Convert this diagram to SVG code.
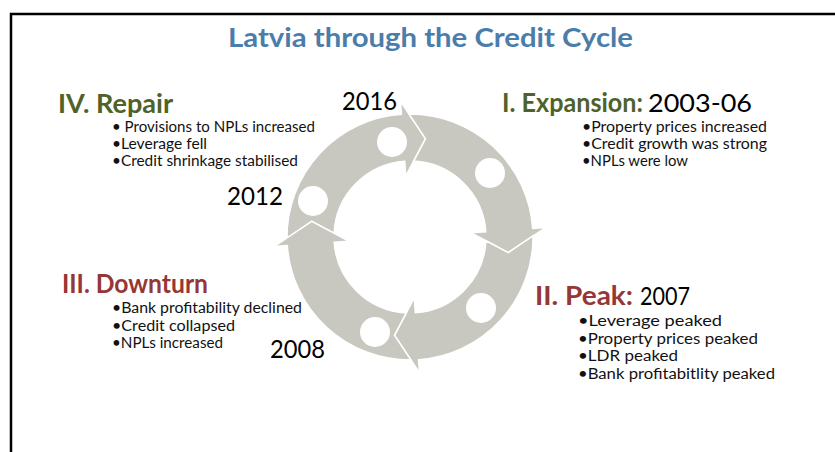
<svg xmlns="http://www.w3.org/2000/svg" width="835" height="452" viewBox="0 0 835 452">
<style>
.title{font-family:Lato,"Liberation Sans",sans-serif;font-weight:700;font-size:27px;fill:#4A7DAA}
.head{font-family:Lato,"Liberation Sans",sans-serif;font-weight:700;font-size:26px}
.green{fill:#4F6228}
.red{fill:#953735}
.year{font-family:Lato,"Liberation Sans",sans-serif;font-weight:400;font-size:25px;fill:#000}
.bul{font-family:Lato,"Liberation Sans",sans-serif;font-size:14.5px;fill:#111}
.seg{fill:#C8C8C0;stroke:#fff;stroke-width:1.5;stroke-linejoin:miter}
.dot{fill:#fff}
</style>
<defs>
<path id="segment" d="M -123.0 1.0 A 123 123 0 0 1 -8.58 -122.70 L -9.49 -135.67 L 15.57 -98.28 L -4.26 -60.85 L -5.30 -75.81 A 76 76 0 0 0 -75.91 -3.72 L -98.28 -15.57 Z"/>
</defs>
<rect width="835" height="452" fill="#fff"/>
<path d="M 11 452 V 14 H 835" fill="none" stroke="#000" stroke-width="2.5"/>
<g id="title">
<text class="title" x="228" y="47" textLength="405" lengthAdjust="spacingAndGlyphs">Latvia through the Credit Cycle</text>
</g>
<g id="connectors">
<use href="#segment" class="seg" transform="translate(410,237)"/>
<use href="#segment" class="seg" transform="translate(410,237) rotate(90)"/>
<use href="#segment" class="seg" transform="translate(410,237) rotate(180)"/>
<use href="#segment" class="seg" transform="translate(410,237) rotate(270)"/>
<circle class="dot" cx="313" cy="201" r="15"/>
<circle class="dot" cx="392" cy="142" r="15"/>
<circle class="dot" cx="490" cy="173" r="15"/>
<circle class="dot" cx="481" cy="308" r="15"/>
<circle class="dot" cx="375" cy="332" r="15"/>
</g>
<g id="node-expansion">
<text class="head green" x="502" y="112" textLength="141" lengthAdjust="spacingAndGlyphs">I. Expansion:</text>
<text class="year" x="648" y="112" textLength="104" lengthAdjust="spacingAndGlyphs">2003-06</text>
<text class="bul" x="582" y="132" textLength="185" lengthAdjust="spacingAndGlyphs">•Property prices increased</text>
<text class="bul" x="582" y="149" textLength="185" lengthAdjust="spacingAndGlyphs">•Credit growth was strong</text>
<text class="bul" x="582" y="166" textLength="106" lengthAdjust="spacingAndGlyphs">•NPLs were low</text>
</g>
<g id="node-peak">
<text class="head red" x="535" y="305" textLength="98" lengthAdjust="spacingAndGlyphs">II. Peak:</text>
<text class="year" x="640" y="305" textLength="50" lengthAdjust="spacingAndGlyphs">2007</text>
<text class="bul" x="578" y="326" textLength="144" lengthAdjust="spacingAndGlyphs">•Leverage peaked</text>
<text class="bul" x="578" y="343.5" textLength="180" lengthAdjust="spacingAndGlyphs">•Property prices peaked</text>
<text class="bul" x="578" y="361" textLength="100" lengthAdjust="spacingAndGlyphs">•LDR peaked</text>
<text class="bul" x="578" y="378.5" textLength="197" lengthAdjust="spacingAndGlyphs">•Bank profitabitlity peaked</text>
</g>
<g id="node-downturn">
<text class="head red" x="62" y="293" textLength="146" lengthAdjust="spacingAndGlyphs">III. Downturn</text>
<text class="bul" x="112" y="313" textLength="190" lengthAdjust="spacingAndGlyphs">•Bank profitability declined</text>
<text class="bul" x="112" y="330.5" textLength="123" lengthAdjust="spacingAndGlyphs">•Credit collapsed</text>
<text class="bul" x="112" y="348" textLength="111" lengthAdjust="spacingAndGlyphs">•NPLs increased</text>
</g>
<g id="node-repair">
<text class="head green" x="58" y="113" textLength="115" lengthAdjust="spacingAndGlyphs">IV. Repair</text>
<text class="bul" x="112" y="132" textLength="203" lengthAdjust="spacingAndGlyphs">• Provisions to NPLs increased</text>
<text class="bul" x="112" y="149" textLength="95" lengthAdjust="spacingAndGlyphs">•Leverage fell</text>
<text class="bul" x="112" y="166" textLength="186" lengthAdjust="spacingAndGlyphs">•Credit shrinkage stabilised</text>
</g>
<g id="year-2016"><text class="year" x="342" y="110" textLength="55" lengthAdjust="spacingAndGlyphs">2016</text></g>
<g id="year-2012"><text class="year" x="227" y="205" textLength="56" lengthAdjust="spacingAndGlyphs">2012</text></g>
<g id="year-2008"><text class="year" x="270" y="358" textLength="55" lengthAdjust="spacingAndGlyphs">2008</text></g>
</svg>
